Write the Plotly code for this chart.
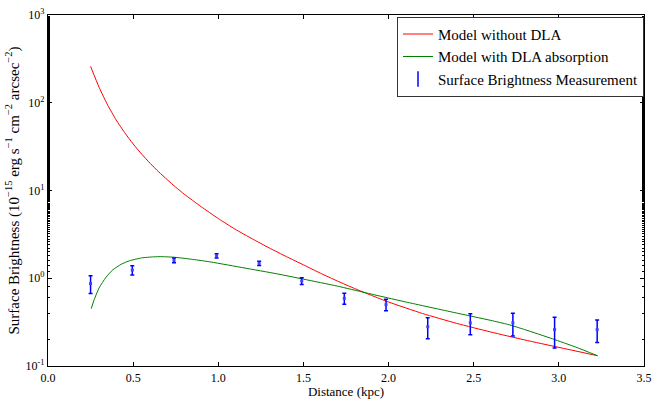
import plotly.graph_objects as go

# Model curves: surface brightness vs projected distance
model_nodla_x = [0.25, 0.30, 0.35, 0.40, 0.45, 0.50, 0.55, 0.60, 0.65, 0.70,
                 0.75, 0.80, 0.90, 1.00, 1.10, 1.20, 1.30, 1.40, 1.50, 1.60,
                 1.70, 1.80, 1.90, 2.00, 2.20, 2.40, 2.60, 2.80, 3.00, 3.227]
model_nodla_y = [260, 150, 94.4, 63.8, 45.7, 33.9, 26.0, 20.4, 16.3, 13.3,
                 10.9, 9.08, 6.53, 4.79, 3.61, 2.81, 2.21, 1.764, 1.422, 1.141,
                 0.929, 0.765, 0.637, 0.536, 0.396, 0.306, 0.244, 0.198, 0.163, 0.131]

model_dla_x = [0.254, 0.27, 0.30, 0.34, 0.38, 0.43, 0.48, 0.55, 0.62, 0.67,
               0.75, 0.85, 0.958, 1.151, 1.343, 1.50, 1.70, 1.864, 2.10, 2.385,
               2.60, 2.70, 2.80, 2.963, 3.10, 3.227]
model_dla_y = [0.451, 0.562, 0.776, 1.023, 1.245, 1.445, 1.585, 1.706, 1.754, 1.762,
               1.73, 1.64, 1.53, 1.312, 1.125, 0.977, 0.813, 0.684, 0.537, 0.407,
               0.331, 0.298, 0.260, 0.204, 0.164, 0.131]

# Measurements with symmetric errors
meas_x = [0.25, 0.495, 0.74, 0.99, 1.24, 1.49, 1.74, 1.985, 2.23, 2.48, 2.73, 2.975, 3.225]
meas_y = [0.87, 1.24, 1.60, 1.80, 1.48, 0.93, 0.59, 0.50, 0.28, 0.31, 0.31, 0.26, 0.26]
meas_err = [0.20, 0.15, 0.10, 0.10, 0.08, 0.08, 0.085, 0.075, 0.075, 0.083, 0.09, 0.10, 0.075]

x_ticks = [0.0, 0.5, 1.0, 1.5, 2.0, 2.5, 3.0, 3.5]
y_tick_vals = [0.1, 1, 10, 100, 1000]
y_tick_text = ["10<sup>-1</sup>", "10<sup>0</sup>", "10<sup>1</sup>", "10<sup>2</sup>", "10<sup>3</sup>"]

FONT = "Liberation Serif"

fig = go.Figure()

fig.add_trace(go.Scatter(
    x=model_nodla_x, y=model_nodla_y, mode="lines",
    line=dict(color="#ff0000", width=1, shape="spline", smoothing=0.5),
    name="Model without DLA"))

fig.add_trace(go.Scatter(
    x=model_dla_x, y=model_dla_y, mode="lines",
    line=dict(color="#008000", width=1, shape="spline", smoothing=0.5),
    name="Model with DLA absorption"))

fig.add_trace(go.Scatter(
    x=meas_x, y=meas_y, mode="markers",
    marker=dict(color="#4040ff", size=3, symbol="square"),
    error_y=dict(type="data", array=meas_err, color="#0000ff", thickness=1.5, width=2),
    showlegend=False))

# legend glyph for the measurements
fig.add_trace(go.Scatter(
    x=[None], y=[None], mode="markers",
    marker=dict(symbol="line-ns-open", size=11, color="#0000ff",
                line=dict(color="#0000ff", width=1.5)),
    name="Surface Brightness Measurement"))

axis_common = dict(
    showgrid=False, zeroline=False,
    showline=True, linecolor="black", linewidth=1.2, mirror="ticks",
    ticks="inside", tickcolor="black", ticklen=4, tickwidth=1,
    tickfont=dict(family=FONT, size=12, color="black"),
)

fig.update_xaxes(
    range=[0, 3.5], tickvals=x_ticks, ticktext=[f"{v:.1f}" for v in x_ticks],
    title=dict(text="Distance (kpc)", font=dict(family=FONT, size=13, color="black"), standoff=2),
    **axis_common)

fig.update_yaxes(
    type="log", range=[-1, 3], tickvals=y_tick_vals, ticktext=y_tick_text,
    minor=dict(ticks="inside", ticklen=2, tickcolor="black", showgrid=False),
    title=dict(text="Surface Brightness (10<sup>−15</sup> erg s<sup>−1</sup> cm<sup>−2</sup> arcsec<sup>−2</sup>)",
               font=dict(family=FONT, size=15, color="black"), standoff=2),
    **axis_common)

fig.update_layout(
    width=659, height=403,
    margin=dict(l=48, r=7, t=9, b=36),
    paper_bgcolor="white", plot_bgcolor="white",
    font=dict(family=FONT, color="black"),
    legend=dict(
        x=1.0, y=0.995, xanchor="right", yanchor="top",
        bgcolor="white", bordercolor="#333333", borderwidth=1,
        font=dict(family=FONT, size=15, color="black"),
        tracegroupgap=0,
    ),
)

fig.write_html("out.html")
